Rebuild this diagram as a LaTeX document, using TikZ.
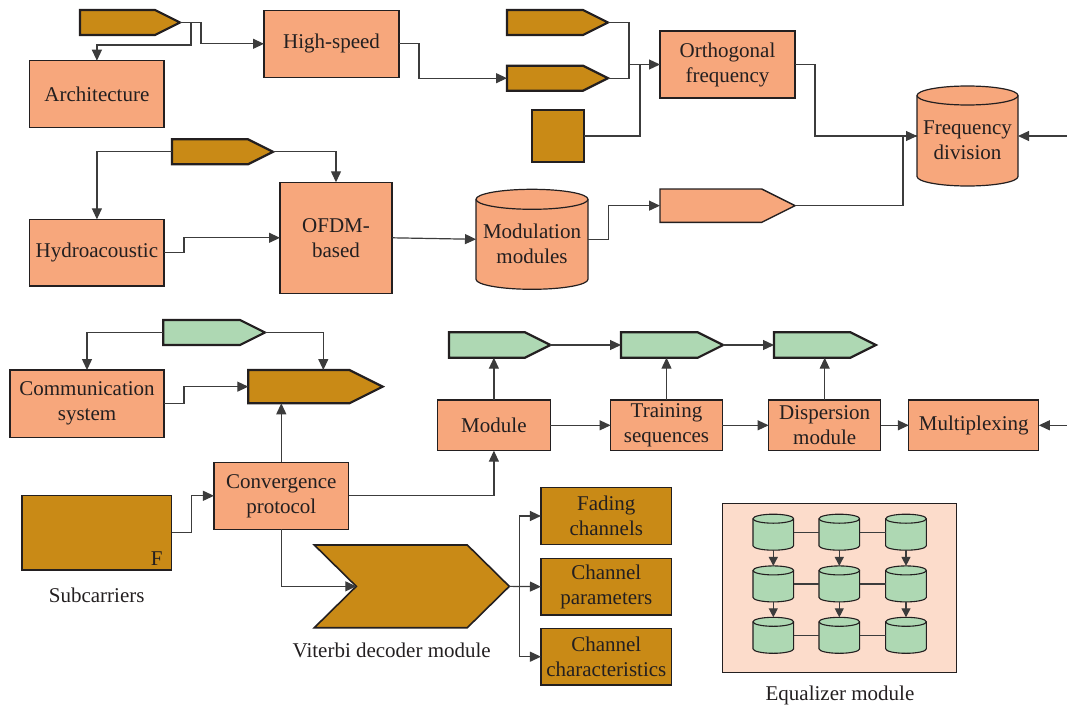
\documentclass[tikz,border=0pt]{standalone}
\usepackage{fontspec}
\setmainfont{Liberation Serif}
\usetikzlibrary{arrows.meta,calc}

\definecolor{salmon}{HTML}{F7A77C}
\definecolor{ochre}{HTML}{C98A16}
\definecolor{mint}{HTML}{AED8B3}
\definecolor{peach}{HTML}{FCDCCB}
\definecolor{ink}{HTML}{231F20}
\definecolor{wirec}{HTML}{3C3C3C}

\newcommand\fs{\fontsize{21}{25}\selectfont}

\tikzset{
  base/.style={inner sep=0pt, outer sep=0pt},
  sized/.style 2 args={minimum width=#1pt, minimum height=#2pt},
  box/.style={base, draw=ink, line width=1.2pt, fill=salmon, align=center, text=ink, font=\fs},
  ochrebox/.style={box, fill=ochre},
  ghost/.style={base, draw=none, fill=none},
  lbl/.style={base, text=ink, font=\fs, align=center},
  wire/.style={draw=wirec, line width=1.2pt},
  arr/.style={wire, -{Triangle[length=11pt,width=10pt]}},
  smallarr/.style={wire, -{Triangle[length=9pt,width=9pt]}},
  heavy/.style={draw=ink, line width=2.2pt, line join=miter},
  light/.style={draw=ink, line width=1.4pt, line join=miter},
}

% Pentagon-shaped arrow box: name, left x, tip x, top y, bottom y, style
\newcommand\arrowbox[6]{%
  \pgfmathsetmacro\abw{#3-#2}%
  \pgfmathsetmacro\abh{#5-#4}%
  \node[ghost, anchor=north west, minimum width=\abw pt, minimum height=\abh pt] (#1) at (#2,#4) {};
  \draw[#6] (#1.north west) -- ([xshift=-\abh pt]#1.north east) -- (#1.east)
     -- ([xshift=-\abh pt]#1.south east) -- (#1.south west) -- cycle;
}

% Upright cylinder: name, centre x, centre y, width, height, rim radius, fill, line width
\newcommand\drum[8]{%
  \pgfmathsetmacro\drx{#4/2}%
  \node[ghost, minimum width=#4pt, minimum height=#5pt] (#1) at (#2,#3) {};
  \draw[draw=ink, line width=#8, fill=#7] ([yshift=-#6pt]#1.north west) -- ([yshift=#6pt]#1.south west)
     arc[start angle=180, end angle=360, x radius=\drx pt, y radius=#6pt]
     -- ([yshift=-#6pt]#1.north east)
     arc[start angle=0, end angle=180, x radius=\drx pt, y radius=#6pt] -- cycle;
  \draw[draw=ink, line width=#8] ([yshift=-#6pt]#1.north west)
     arc[start angle=180, end angle=360, x radius=\drx pt, y radius=#6pt];
}

\begin{document}
\begin{tikzpicture}[x=1pt, y=-1pt]
\useasboundingbox (0,0) rectangle (1067,709);

% ---------- upper block ----------
\arrowbox{pa}{80}{180}{10}{35}{heavy, fill=ochre}
\node[box, sized={134.3}{66.6}] (arch) at (96.9,94) {Architecture};
\node[box, sized={135}{67}] (hs) at (331.5,43.8) {High-speed};
\arrowbox{pb}{507}{608}{10}{35}{heavy, fill=ochre}
\arrowbox{pc}{507}{608}{65.7}{90.7}{heavy, fill=ochre}
\node[ochrebox, sized={52}{52}] (sq) at (558,136) {};
\node[box, sized={135}{67}] (orth) at (727.5,64.5) {Orthogonal\\frequency};
\drum{fd}{967.5}{136}{101}{100}{9.5}{salmon}{1.2pt}
\node[lbl] (fdtext) at (967.5,140) {Frequency\\division};
\coordinate (fdin) at (1067,136);

\arrowbox{pd}{172}{273}{139.3}{164.3}{heavy, fill=ochre}
\node[box, sized={134.3}{66.7}] (hyd) at (96.9,252.7) {Hydroacoustic};
\node[box, sized={112}{111}] (ofdm) at (336,237.8) {OFDM-\\based};
\drum{mod}{532}{239.3}{112}{100}{10}{salmon}{1.2pt}
\node[lbl] (modtext) at (532,243.5) {Modulation\\modules};
\arrowbox{pe}{660}{795}{189}{222.3}{light, fill=salmon}

\draw[arr] (pa.east) -- ++(21,0) |- (hs.west);
\draw[arr] (pa.east) -- ++(11,0) -- ++(0,22.5) -| (arch.north);
\draw[arr] (hs.east) -- ++(20,0) |- (pc.west);
\draw[wire] (pb.east) -- ++(21,0) |- (orth.west);
\draw[wire] (sq.east) -- ++(56,0) |- (orth.west);
\draw[arr] (pc.east) -- ++(21,0) |- (orth.west);
\draw[arr] (orth.east) -- ++(20,0) |- (fd.west);
\draw[wire] (pe.east) -- ++(108,0) |- (fd.west);
\draw[arr] (fdin) -- (fd.east);

\draw[arr] (pd.west) -| (hyd.north);
\draw[arr] (pd.east) -| (ofdm.north);
\draw[arr] (hyd.east) -- ++(20,0) |- (ofdm.west);
\draw[arr] (ofdm.east) -- (mod.west);
\draw[arr] (mod.east) -- ++(20.7,0) |- (pe.west);

% ---------- lower block ----------
\arrowbox{ga}{163.3}{265}{320}{345}{heavy, fill=mint}
\node[box, sized={154}{67.3}] (comm) at (87,403.7) {Communication\\system};
\arrowbox{pf}{248.3}{382.7}{370}{403.3}{heavy, fill=ochre}
\node[box, sized={134.7}{67}] (conv) at (281.3,495.8) {Convergence\\protocol};
\node[ochrebox, sized={149.7}{74.3}] (sub) at (96.8,532.8) {};
\node[lbl] (subf) at (156.7,558.3) {F};
\node[lbl] (subl) at (96.7,595) {Subcarriers};

\arrowbox{gb}{448.9}{550.4}{332.3}{357.7}{heavy, fill=mint}
\arrowbox{gc}{621}{723.2}{332.3}{357.7}{heavy, fill=mint}
\arrowbox{gd}{774}{875.9}{332.3}{357.7}{heavy, fill=mint}
\node[box, sized={113}{50.7}] (modl) at (493.9,425.3) {Module};
\node[box, sized={111.8}{50.7}] (train) at (666.5,425.3) {Training\\sequences};
\node[box, sized={112.2}{50.7}] (disp) at (824.7,425.3) {Dispersion\\module};
\node[box, sized={130}{50.7}] (mux) at (973.8,425.3) {Multiplexing};
\coordinate (muxin) at (1067,425.3);

% Viterbi decoder chevron
\node[ghost, minimum width=195pt, minimum height=82.7pt] (vit) at (411.8,586.35) {};
\draw[heavy, line width=1.6pt, fill=ochre] (vit.north west) -- ([xshift=-42pt]vit.north east) -- (vit.east)
   -- ([xshift=-42pt]vit.south east) -- (vit.south west) -- ([xshift=42pt]vit.west) -- cycle;
\coordinate (vitnotch) at ([xshift=42pt]vit.west);
\node[lbl] (vitl) at (391.7,650.7) {Viterbi decoder module};

\node[ochrebox, sized={130.7}{56.6}] (fade) at (606.3,516) {Fading\\channels};
\node[ochrebox, sized={130.7}{56.7}] (chp) at (606.3,586.7) {Channel\\parameters};
\node[ochrebox, sized={130.7}{56.7}] (chc) at (606.3,656.7) {Channel\\characteristics};

\draw[arr] (ga.west) -| (comm.north);
\draw[arr] (ga.east) -| ([xshift=7.8pt]pf.north);
\draw[arr] (comm.east) -- ++(20,0) |- (pf.west);
\draw[arr] (conv.north) -- (conv.north |- pf.south);
\draw[arr] (sub.east) -- ++(20,0) |- (conv.west);
\draw[arr] (conv.east) -| (modl.south);
\draw[arr] (conv.south) |- (vitnotch);

\draw[arr] (modl.north) -- (modl.north |- gb.south);
\draw[arr] (train.north) -- (train.north |- gc.south);
\draw[arr] (disp.north) -- (disp.north |- gd.south);
\draw[arr] (gb.east) -- (gc.west);
\draw[arr] (gc.east) -- (gd.west);
\draw[arr] (modl.east) -- (train.west);
\draw[arr] (train.east) -- (disp.west);
\draw[arr] (disp.east) -- (mux.west);
\draw[arr] (muxin) -- (mux.east);

\draw[arr] (vit.east) -- ++(10,0) |- (fade.west);
\draw[arr] (vit.east) -- (chp.west);
\draw[arr] (vit.east) -- ++(10,0) |- (chc.west);

% ---------- equalizer grid ----------
\node[base, draw=ink, line width=1.2pt, fill=peach, sized={234.4}{169.4}] (eq) at (839.5,588) {};
\foreach \c/\cx in {1/773.3, 2/839.3, 3/906} {
  \foreach \r/\cy in {1/532.2, 2/583.9, 3/635.3} {
    \drum{e\r\c}{\cx}{\cy}{40.7}{36}{4.5}{mint}{1.1pt}
  }
}
\foreach \r in {1,2,3} {
  \draw[wire] (e\r1.east) -- (e\r2.west);
  \draw[wire] (e\r2.east) -- (e\r3.west);
}
\foreach \c in {1,2,3} {
  \draw[smallarr] (e1\c.south) -- (e2\c.north);
  \draw[smallarr] (e2\c.south) -- (e3\c.north);
}
\node[lbl] (eql) at (840,695) {Equalizer module};

\end{tikzpicture}
\end{document}
